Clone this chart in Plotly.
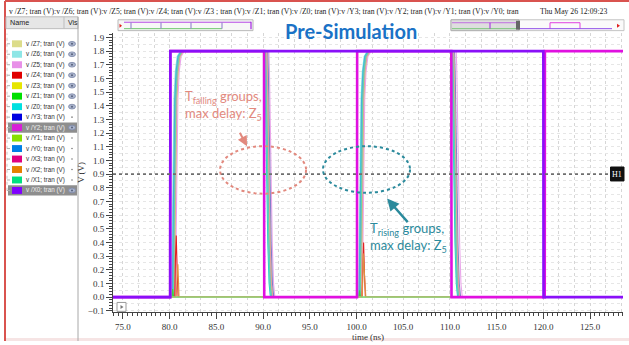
import plotly.graph_objects as go

W, H = 629, 345

# ---------------------------------------------------------------- data
SIGNALS = ["/Z7", "/Z6", "/Z5", "/Z4", "/Z3", "/Z1", "/Z0", "/Y3",
           "/Y2", "/Y1", "/Y0", "/X3", "/X2", "/X1", "/X0"]
COLORS = ["#dcdc8a", "#8ee6e6", "#e890e8", "#e00000", "#e6e600", "#00e000",
          "#00e0e0", "#0000e0", "#d81ed8", "#88e000", "#0080e6", "#e00080",
          "#e68000", "#00e080", "#8000ff"]
# colours as the thin waveform lines appear on the white canvas
LINE_COLORS = {"/Z7": "#d8d890", "/Z6": "#90e0e0", "/Z5": "#eaa6ea",
               "/Z4": "#e02020", "/Z3": "#e0c060", "/Z1": "#40d040",
               "/Z0": "#30d0d0", "/Y3": "#8080c8", "/Y1": "#90e090",
               "/Y0": "#50a8e0", "/X3": "#e0a0a0", "/X2": "#e09040",
               "/X1": "#60d8a8"}
VISIBLE_EYE = ["/Z7", "/Z6", "/Z5", "/Z4", "/Z3", "/Z1", "/Z0", "/Y2", "/X0"]
SELECTED = ["/Y2", "/X0"]

T_START, T_END = 73.9, 128.6

# driving inputs (ns, V)
X0_T = [T_START, 80.05, 80.07, 120.0, 120.02, T_END]
X0_V = [0.0, 0.0, 1.8, 1.8, 0.0, 0.0]
Y2_T = [T_START, 80.05, 80.07, 90.1, 90.12, 100.05, 100.07, 110.15, 110.17,
        120.15, 120.17, T_END]
Y2_V = [0.0, 0.0, 1.8, 1.8, 0.0, 0.0, 1.8, 1.8, 0.0, 0.0, 1.8, 1.8]

# measured output edge shape (offset from edge start in ns, V)
RISE_DT = [0.0, 0.08, 0.16, 0.26, 0.4, 0.6, 0.95]
RISE_V = [0.0, 0.5, 1.1, 1.45, 1.65, 1.76, 1.8]
FALL_DT = [0.0, 0.06, 0.14, 0.24, 0.36, 0.5, 0.64]
FALL_V = [1.8, 1.65, 1.3, 0.85, 0.4, 0.1, 0.0]

# output edge start times: rise, fall, rise, fall (ns)
EDGES = {
    "/Z7": [80.42, 90.35, 100.42, 110.35],
    "/Z6": [80.2, 90.18, 100.22, 110.22],
    "/Z5": [80.62, 90.62, 100.62, 110.68],
    "/Z3": [80.5, 90.42, 100.5, 110.42],
    "/Z0": [80.28, 90.14, 100.28, 110.18],
    "/Y3": [80.36, 90.5, 100.38, 110.5],
    "/Y0": [80.32, 90.28, 100.33, 110.3],
    "/X3": [80.48, 90.38, 100.5, 110.4],
    "/X1": [80.4, 90.24, 100.4, 110.28],
}

# outputs that only glitch or stay low
GLITCH = {
    "/Z4": ([T_START, 80.55, 80.62, 80.7, 80.8, 80.9, 100.6, 100.68, 100.76,
             100.86, 100.95, T_END],
            [0.0, 0.0, 0.3, 0.45, 0.2, 0.0, 0.0, 0.25, 0.4, 0.15, 0.0, 0.0]),
    "/X2": ([T_START, 80.7, 80.8, 80.88, 81.0, 100.62, 100.72, 100.86, 101.0,
             T_END],
            [0.0, 0.0, 0.18, 0.24, 0.0, 0.0, 0.32, 0.1, 0.0, 0.0]),
    "/Z1": ([T_START, 80.25, 80.32, 80.42, 100.25, 100.32, 100.42, T_END],
            [0.0, 0.0, 0.06, 0.0, 0.0, 0.05, 0.0, 0.0]),
    "/Y1": ([T_START, T_END], [0.0, 0.0]),
}

X_RANGE = [73.93, 128.53]
Y_RANGE = [-0.111, 1.935]

HEADER_NAMES = ["/Z7", "/Z6", "/Z5", "/Z4", "/Z3 ", "/Z1", "/Z0", "/Y3",
                "/Y2", "/Y1", "/Y0"]
TIMESTAMP = "Thu May 26 12:09:23"
TITLE = "Pre-Simulation"

SALMON = "#e2897e"
TEAL = "#2b8a9c"


def px(x):
    return x / W


def py(y):
    return 1 - y / H


def follower(edges):
    t, v = [T_START], [0.0]
    for k, e in enumerate(edges):
        dts, vs = (RISE_DT, RISE_V) if k % 2 == 0 else (FALL_DT, FALL_V)
        t += [e + d for d in dts]
        v += list(vs)
    t.append(T_END)
    v.append(0.0)
    return t, v


fig = go.Figure()
color_of = dict(zip(SIGNALS, COLORS))

# switching outputs first, glitching ones next, the low reference line last
order = [n for n in SIGNALS if n in EDGES] + \
        [n for n in SIGNALS if n in GLITCH and n != "/Y1"] + ["/Y1"]
for name in order:
    if name in EDGES:
        t, v = follower(EDGES[name])
    else:
        t, v = GLITCH[name]
    fig.add_trace(go.Scatter(x=t, y=v, mode="lines", name="v " + name,
                             line=dict(color=LINE_COLORS[name], width=1.1),
                             showlegend=False, hoverinfo="skip"))

fig.add_trace(go.Scatter(x=Y2_T, y=Y2_V, mode="lines", name="v /Y2",
                         line=dict(color="#e010e0", width=2.6),
                         showlegend=False, hoverinfo="skip"))
fig.add_trace(go.Scatter(x=X0_T, y=X0_V, mode="lines", name="v /X0",
                         line=dict(color="#8a10f8", width=2.6),
                         showlegend=False, hoverinfo="skip"))
# carrier for the overlay grid axes
fig.add_trace(go.Scatter(x=[None], y=[None], xaxis="x2", yaxis="y2",
                         showlegend=False, hoverinfo="skip"))

SERIF = "Liberation Serif"
SANS = "Liberation Sans"
XDOM = [px(113), px(623)]
YDOM = [py(316), py(33)]
GRID = "#d6d6d6"

fig.update_layout(
    width=W, height=H, autosize=False,
    margin=dict(l=0, r=0, t=0, b=0),
    paper_bgcolor="white", plot_bgcolor="white",
    xaxis=dict(domain=XDOM, range=X_RANGE, tick0=75, dtick=5,
               tickformat=".1f", ticks="outside", ticklen=6, tickwidth=1,
               tickcolor="#444", showline=True, linecolor="#444",
               showgrid=False, zeroline=False,
               tickfont=dict(family=SERIF, size=9, color="#333"),
               minor=dict(dtick=0.5, tick0=75, ticks="outside", ticklen=3,
                          tickcolor="#444", showgrid=False),
               title=dict(text="time (ns)", standoff=1,
                          font=dict(family=SERIF, size=9, color="#333"))),
    yaxis=dict(domain=YDOM, range=Y_RANGE, tick0=0, dtick=0.1,
               tickformat=".1f", ticks="outside", ticklen=6, tickwidth=1,
               tickcolor="#444", showline=True, linecolor="#444",
               showgrid=True, gridcolor=GRID, griddash="dot", gridwidth=1,
               zeroline=False,
               tickfont=dict(family=SERIF, size=9, color="#333"),
               minor=dict(dtick=0.02, tick0=0, ticks="outside", ticklen=3,
                          tickcolor="#444", showgrid=False),
               title=dict(text="V (V)", standoff=1,
                          font=dict(family=SERIF, size=9, color="#333"))),
    xaxis2=dict(domain=XDOM, overlaying="x", matches="x", anchor="y2",
                tick0=75, dtick=5 / 3, showgrid=True, gridcolor=GRID,
                griddash="dot", showticklabels=False, ticks="",
                showline=False, zeroline=False),
    yaxis2=dict(domain=YDOM, overlaying="y", matches="y", anchor="x2",
                tick0=0, dtick=0.05, showgrid=True, gridcolor="#e6e6e6",
                griddash="dot", showticklabels=False, ticks="",
                showline=False, zeroline=False),
)

shapes = []
ann = []

# window frame
shapes.append(dict(type="rect", xref="paper", yref="paper", x0=px(5), x1=1,
                   y0=0, y1=py(342), fillcolor="#f6e4e4", line_width=0,
                   layer="below"))
shapes.append(dict(type="line", xref="paper", yref="paper", x0=px(5),
                   x1=px(5), y0=0, y1=py(1), line=dict(color="#d9534f",
                                                       width=2)))
shapes.append(dict(type="line", xref="paper", yref="paper", x0=px(5), x1=1,
                   y0=py(1), y1=py(1), line=dict(color="#d9534f", width=2)))

# header line of signal names and date
parts = ["v %s; tran (V)" % n for n in HEADER_NAMES[:-1]]
parts.append("v %s; tran" % HEADER_NAMES[-1])
ann.append(dict(text=":".join(parts), x=px(7), y=py(12),
                xref="paper", yref="paper", xanchor="left", yanchor="middle",
                showarrow=False, font=dict(family=SERIF, size=7.7,
                                           color="#222")))
ann.append(dict(text=TIMESTAMP, x=px(538), y=py(12), xref="paper",
                yref="paper", xanchor="left", yanchor="middle",
                showarrow=False, font=dict(family=SERIF, size=7.7,
                                           color="#222")))

# signal browser panel
shapes.append(dict(type="rect", xref="paper", yref="paper", x0=px(6),
                   x1=px(78), y0=py(29), y1=py(17), fillcolor="#e6e6e6",
                   line=dict(color="#bdbdbd", width=1)))
shapes.append(dict(type="line", xref="paper", yref="paper", x0=px(64),
                   x1=px(64), y0=py(29), y1=py(17),
                   line=dict(color="#bdbdbd", width=1)))
shapes.append(dict(type="line", xref="paper", yref="paper", x0=px(78),
                   x1=px(78), y0=0, y1=py(17),
                   line=dict(color="#a8a8a8", width=1)))
ann.append(dict(text="Name", x=px(8), y=py(23), xref="paper", yref="paper",
                xanchor="left", yanchor="middle", showarrow=False,
                font=dict(family=SANS, size=7.2, color="#222")))
ann.append(dict(text="Vis", x=px(65.5), y=py(23), xref="paper", yref="paper",
                xanchor="left", yanchor="middle", showarrow=False,
                font=dict(family=SANS, size=7, color="#222")))
shapes.append(dict(type="line", xref="paper", yref="paper", x0=px(7),
                   x1=px(7), y0=py(193), y1=py(34),
                   line=dict(color="#c8c8c8", width=1, dash="dot")))

for i, name in enumerate(SIGNALS):
    yc = 44.3 + i * 10.6
    sel = name in SELECTED
    if sel:
        shapes.append(dict(type="rect", xref="paper", yref="paper",
                           x0=px(8), x1=px(77), y0=py(yc + 5.2),
                           y1=py(yc - 5.2), fillcolor="#8e8e8e",
                           line_width=0))
    shapes.append(dict(type="line", xref="paper", yref="paper", x0=px(7),
                       x1=px(10), y0=py(yc), y1=py(yc),
                       line=dict(color="#b0b0b0", width=1)))
    shapes.append(dict(type="rect", xref="paper", yref="paper", x0=px(12),
                       x1=px(22), y0=py(yc + 3.5), y1=py(yc - 3.5),
                       fillcolor=color_of[name], line_width=0))
    ann.append(dict(text="v %s; tran (V)" % name, x=px(24), y=py(yc),
                    xref="paper", yref="paper", xanchor="left",
                    yanchor="middle", showarrow=False,
                    font=dict(family=SANS, size=6.3,
                              color="#eeeeee" if sel else "#333")))
    if name in VISIBLE_EYE:
        shapes.append(dict(type="circle", xref="paper", yref="paper",
                           x0=px(68.5), x1=px(75.5), y0=py(yc + 2.4),
                           y1=py(yc - 2.4), fillcolor="#aab4cc",
                           line=dict(color="#7c88a8", width=0.8)))
        shapes.append(dict(type="circle", xref="paper", yref="paper",
                           x0=px(71), x1=px(73), y0=py(yc + 1),
                           y1=py(yc - 1), fillcolor="#55607c",
                           line_width=0))
    else:
        shapes.append(dict(type="circle", xref="paper", yref="paper",
                           x0=px(71.2), x1=px(72.8), y0=py(yc + 0.8),
                           y1=py(yc - 0.8), fillcolor="#777",
                           line_width=0))

# overview strips above the plot
shapes.append(dict(type="rect", xref="paper", yref="paper", x0=px(118),
                   x1=px(253), y0=py(31), y1=py(20), fillcolor="#f7f7f7",
                   line=dict(color="#b8b8b8", width=1)))
shapes.append(dict(type="line", xref="paper", yref="paper", x0=px(124),
                   x1=px(251), y0=py(22.5), y1=py(22.5),
                   line=dict(color="#b84ae6", width=1)))
shapes.append(dict(type="line", xref="paper", yref="paper", x0=px(124),
                   x1=px(222), y0=py(29), y1=py(29),
                   line=dict(color="#6cc86c", width=1)))
for xb in (131, 161, 191, 222):
    shapes.append(dict(type="line", xref="paper", yref="paper", x0=px(xb),
                       x1=px(xb), y0=py(29), y1=py(22.5),
                       line=dict(color="#9a8ad0", width=1.2)))
shapes.append(dict(type="line", xref="paper", yref="paper", x0=px(251),
                   x1=px(251), y0=py(29.5), y1=py(22),
                   line=dict(color="#a020e0", width=1.2)))
shapes.append(dict(type="path", xref="paper", yref="paper",
                   path="M %f %f L %f %f L %f %f Z" % (
                       px(119.5), py(24), px(119.5), py(28), px(122), py(26)),
                   fillcolor="#e02020", line_width=0))
shapes.append(dict(type="rect", xref="paper", yref="paper", x0=px(451),
                   x1=px(624), y0=py(31), y1=py(20), fillcolor="#fafafa",
                   line=dict(color="#c4c4c4", width=1)))
shapes.append(dict(type="rect", xref="paper", yref="paper", x0=px(451),
                   x1=px(519), y0=py(31), y1=py(20), fillcolor="#dedede",
                   line=dict(color="#b0b0b0", width=1)))
shapes.append(dict(type="rect", xref="paper", yref="paper", x0=px(516),
                   x1=px(520), y0=py(30), y1=py(21), fillcolor="#666",
                   line_width=0))
shapes.append(dict(type="line", xref="paper", yref="paper", x0=px(452),
                   x1=px(516), y0=py(29), y1=py(29),
                   line=dict(color="#7cc87c", width=1)))
shapes.append(dict(type="line", xref="paper", yref="paper", x0=px(452),
                   x1=px(516), y0=py(23), y1=py(23),
                   line=dict(color="#c070e0", width=1)))
shapes.append(dict(type="line", xref="paper", yref="paper", x0=px(490),
                   x1=px(490), y0=py(29), y1=py(23),
                   line=dict(color="#a020e0", width=1)))
shapes.append(dict(type="path", xref="paper", yref="paper",
                   path="M %f %f L %f %f L %f %f L %f %f" % (
                       px(550), py(29), px(550), py(23), px(580), py(23),
                       px(580), py(29)),
                   line=dict(color="#e040e0", width=1)))
shapes.append(dict(type="line", xref="paper", yref="paper", x0=px(520),
                   x1=px(612), y0=py(29), y1=py(29),
                   line=dict(color="#9050e8", width=1)))
shapes.append(dict(type="path", xref="paper", yref="paper",
                   path="M %f %f L %f %f L %f %f Z" % (
                       px(617), py(24), px(617), py(28), px(620), py(26)),
                   fillcolor="#e02020", line_width=0))

# title
ann.append(dict(text="<b>%s</b>" % TITLE, x=px(351), y=py(31),
                xref="paper", yref="paper", xanchor="center",
                yanchor="middle", showarrow=False,
                font=dict(family="Lato", size=20, color="#1a72c6")))

# H1 cursor at 0.9 V
shapes.append(dict(type="line", xref="paper", yref="y", x0=XDOM[0],
                   x1=px(611), y0=0.9, y1=0.9,
                   line=dict(color="#6e6e6e", width=1.6, dash="dot")))
shapes.append(dict(type="rect", xref="paper", yref="y", x0=px(610.5),
                   x1=px(624), y0=0.85, y1=0.952, fillcolor="#111",
                   line=dict(color="#111", width=1)))
ann.append(dict(text="H1", x=px(617.3), y=0.9, xref="paper", yref="y",
                xanchor="center", yanchor="middle", showarrow=False,
                font=dict(family=SERIF, size=8, color="white")))

# play box
shapes.append(dict(type="rect", xref="paper", yref="paper", x0=px(117),
                   x1=px(126), y0=py(315), y1=py(306), fillcolor="white",
                   line=dict(color="#9a9a9a", width=1)))
shapes.append(dict(type="path", xref="paper", yref="paper",
                   path="M %f %f L %f %f L %f %f Z" % (
                       px(120.5), py(308.5), px(120.5), py(312.5), px(123.5),
                       py(310.5)),
                   fillcolor="#777", line_width=0))

# delay groups
shapes.append(dict(type="circle", xref="x", yref="y", x0=85.39, x1=94.6,
                   y0=0.757, y1=1.104,
                   line=dict(color=SALMON, width=2, dash="dot")))
shapes.append(dict(type="circle", xref="x", yref="y", x0=96.41, x1=105.73,
                   y0=0.764, y1=1.104,
                   line=dict(color=TEAL, width=2, dash="dot")))

ann.append(dict(text="T<sub>falling</sub> groups,<br>max delay: Z<sub>5</sub>",
                x=px(183), y=py(107), xref="paper", yref="paper",
                xanchor="left", yanchor="middle", align="left",
                showarrow=False,
                font=dict(family="Lato", size=13, color=SALMON)))
ann.append(dict(text="T<sub>rising</sub> groups,<br>max delay: Z<sub>5</sub>",
                x=px(368), y=py(240.5), xref="paper", yref="paper",
                xanchor="left", yanchor="middle", align="left",
                showarrow=False,
                font=dict(family="Lato", size=13, color=TEAL)))
ann.append(dict(text="", x=88.28, y=1.104, xref="x", yref="y",
                showarrow=True, ax=-8, ay=-15, arrowhead=2, arrowsize=1,
                arrowwidth=2, arrowcolor=SALMON, standoff=0))
ann.append(dict(text="", x=103.27, y=0.721, xref="x", yref="y",
                showarrow=True, ax=22, ay=25, arrowhead=2, arrowsize=1,
                arrowwidth=2.4, arrowcolor=TEAL, standoff=0))

fig.update_layout(shapes=shapes, annotations=ann)
fig.write_html("out.html")
